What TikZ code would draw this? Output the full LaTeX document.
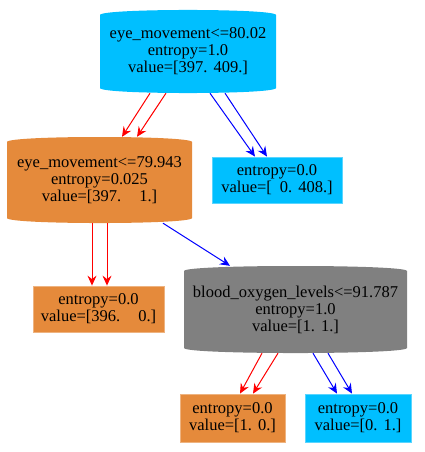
\documentclass[tikz,border=0pt]{standalone}
\usepackage{fontspec}
\setmainfont{Liberation Serif}
\newfontfamily\treefont{Liberation Serif}
\usetikzlibrary{arrows.meta,calc}
\definecolor{skyfill}{RGB}{0,191,255}
\definecolor{orangefill}{RGB}{229,138,59}
\definecolor{grayfill}{RGB}{128,128,128}
\newcommand{\gp}[1]{\hspace*{#1pt}}
\begin{document}
\begin{tikzpicture}[x=1pt, y=1pt,
        every node/.style={font=\treefont\fontsize{16.5}{17}\selectfont, align=center, inner sep=0pt},
        leaf/.style={fill=#1, draw=#1!65!white, line width=0.8pt, minimum height=46pt},
        tube/.style={path picture={\fill[#1] let \p1=(path picture bounding box.north west), \p2=(path picture bounding box.south east) in
            (\x1,\y1-5pt) .. controls (\x1,\y1+1.7pt) and (\x2,\y1+1.7pt) .. (\x2,\y1-5pt)
            -- (\x2,\y2+5pt) .. controls (\x2,\y2-1.7pt) and (\x1,\y2-1.7pt) .. (\x1,\y2+5pt) -- cycle;}},
        hotedge/.style={red, line width=1pt, -{Stealth[length=10pt, width=9pt, inset=3.5pt]}},
        coldedge/.style={blue, line width=1pt, -{Stealth[length=10pt, width=9pt, inset=3.5pt]}}]
        \useasboundingbox (0,0) rectangle (424,-452);
        \node[tube=skyfill, minimum width=176pt, minimum height=83pt] (root) at (188,-51.5) {eye\_movement<=80.02\\entropy=1.0\\value=[397.\gp{6}409.]};
        \node[tube=orangefill, minimum width=185pt, minimum height=86pt] (eye) at (99.5,-180) {eye\_movement<=79.943\\entropy=0.025\\value=[397.\gp{18}1.]};
        \node[leaf=skyfill, minimum width=130pt] (leafa) at (277,-180) {entropy=0.0\\value=[\gp{8}0.\gp{6}408.]};
        \node[leaf=orangefill, minimum width=131pt] (leafb) at (98.5,-309) {entropy=0.0\\value=[396.\gp{18}0.]};
        \node[tube=grayfill, minimum width=223pt, minimum height=87pt] (blood) at (295.5,-309.5) {blood\_oxygen\_levels<=91.787\\entropy=1.0\\value=[1.\gp{6}1.]};
        \node[leaf=orangefill, minimum width=105pt, minimum height=48pt] (leafc) at (232.5,-418) {entropy=0.0\\value=[1.\gp{6}0.]};
        \node[leaf=skyfill, minimum width=106pt, minimum height=48pt] (leafd) at (358,-418) {entropy=0.0\\value=[0.\gp{6}1.]};
        \draw[hotedge] ([xshift=-38pt]root.south) -- ([xshift=22.5pt]eye.north);
        \draw[hotedge] ([xshift=-22pt]root.south) -- ([xshift=37.5pt]eye.north);
        \draw[coldedge] ([xshift=22pt]root.south) -- ([xshift=-22pt]leafa.north);
        \draw[coldedge] ([xshift=37pt]root.south) -- ([xshift=-10pt]leafa.north);
        \draw[hotedge] ([xshift=-7.5pt]eye.south) -- ([xshift=-6.5pt]leafb.north);
        \draw[hotedge] ([xshift=7.5pt]eye.south) -- ([xshift=8.5pt]leafb.north);
        \draw[coldedge] ([xshift=63.5pt]eye.south) -- ([xshift=-65.5pt]blood.north);
        \draw[hotedge] ([xshift=-33.5pt]blood.south) -- ([xshift=7.5pt]leafc.north);
        \draw[hotedge] ([xshift=-17.5pt]blood.south) -- ([xshift=20.5pt]leafc.north);
        \draw[coldedge] ([xshift=17.5pt]blood.south) -- ([xshift=-21pt]leafd.north);
        \draw[coldedge] ([xshift=32.5pt]blood.south) -- ([xshift=-6pt]leafd.north);
    \end{tikzpicture}
\end{document}
